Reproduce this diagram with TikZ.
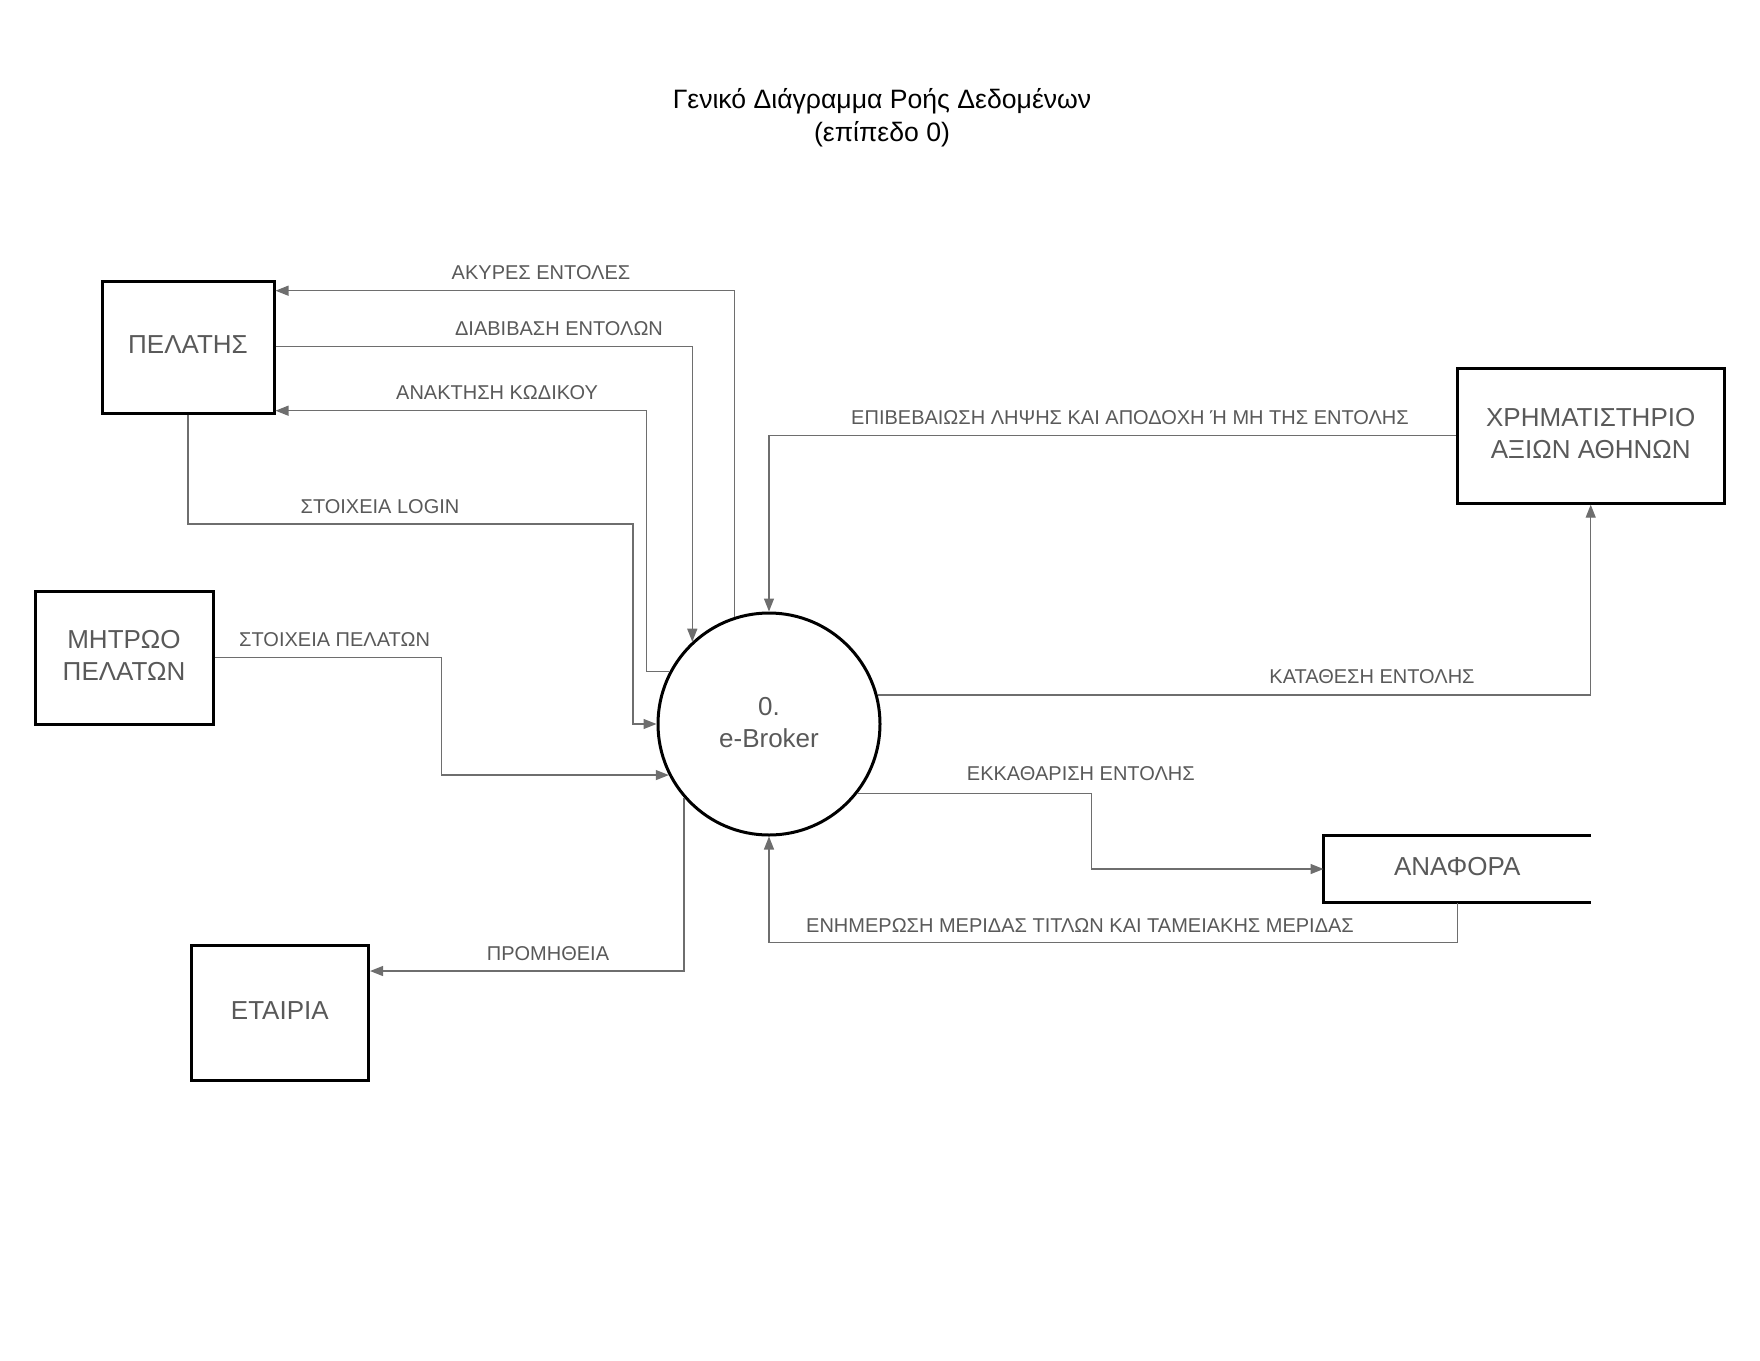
\documentclass[tikz,border=0pt]{standalone}
\usepackage{fontspec}
\setmainfont{Liberation Sans}
\usetikzlibrary{arrows.meta}
\definecolor{inkgray}{HTML}{595959}
\definecolor{wiregray}{HTML}{6E6E6E}
\begin{document}
\begin{tikzpicture}[x=0.5pt,y=-0.5pt,
  entity/.style={draw=black, line width=1.5pt, text=inkgray, inner sep=0pt,
    text depth=2.5pt, font=\fontsize{13pt}{16pt}\selectfont, align=center},
  process/.style={circle, draw=black, line width=1.5pt, minimum size=111pt,
    inner sep=0pt, text depth=1.2pt, text=inkgray, font=\fontsize{13pt}{16pt}\selectfont, align=center},
  storebox/.style={inner sep=0pt, text depth=2.5pt, text=inkgray, font=\fontsize{13pt}{16pt}\selectfont},
  wire/.style={draw=wiregray, line width=0.65pt},
  flow/.style={wire, -{Triangle[length=6.5pt,width=5pt]}},
  flowlabel/.style={text=inkgray, inner sep=0pt, font=\fontsize{10pt}{12pt}\selectfont},
]
\useasboundingbox (0,0) rectangle (1760,1360);

% heading
\node[align=center, font=\fontsize{13.3pt}{16.3pt}\selectfont] (title) at (882,117.5)
  {Γενικό Διάγραμμα Ροής Δεδομένων\\(επίπεδο 0)};

% external entities
\node[entity, minimum width=86pt, minimum height=66pt] (pel) at (188,347) {ΠΕΛΑΤΗΣ};
\node[entity, minimum width=89pt, minimum height=66.5pt] (mit) at (124,657.7) {ΜΗΤΡΩΟ\\ΠΕΛΑΤΩΝ};
\node[entity, minimum width=88.75pt, minimum height=67.5pt] (eta) at (279.8,1013.3) {ΕΤΑΙΡΙΑ};
\node[entity, minimum width=133.5pt, minimum height=67.5pt] (xa) at (1590.7,435.7) {ΧΡΗΜΑΤΙΣΤΗΡΙΟ\\ΑΞΙΩΝ ΑΘΗΝΩΝ};

% process
\node[process] (ebr) at (769,724) {0.\\e-Broker};

% data store (open on the right)
\node[storebox, minimum width=133.25pt, minimum height=33.15pt] (ana) at (1457.2,869) {ΑΝΑΦΟΡΑ};
\draw[line width=1.5pt] (ana.north east) -- (ana.north west) -- (ana.south west) -- (ana.south east);

% flows between the client and the process
\draw[flow] (ebr.108.9) |- (pel.east |- 0,290.7);
\draw[flow] (pel.east |- 0,346.7) -| (ebr.133.2);
\draw[flow] (ebr.152.65) -- ++(-23,0) |- (pel.east |- 0,410.7);
\draw[flow] (pel.south) |- (633,524) |- (ebr.west);

\node[flowlabel] (l1) at (541,272.6) {ΑΚΥΡΕΣ ΕΝΤΟΛΕΣ};
\node[flowlabel] (l2) at (559,329) {ΔΙΑΒΙΒΑΣΗ ΕΝΤΟΛΩΝ};
\node[flowlabel] (l3) at (497,392.7) {ΑΝΑΚΤΗΣΗ ΚΩΔΙΚΟΥ};
\node[flowlabel] (l4) at (380,507) {ΣΤΟΙΧΕΙΑ LOGIN};

% client register and company
\draw[flow] (mit.east) -- (441.4,657.7) |- (ebr.207.6);
\node[flowlabel] (l5) at (334.6,640) {ΣΤΟΙΧΕΙΑ ΠΕΛΑΤΩΝ};

\draw[flow] (ebr.221) |- (eta.east |- 0,971);
\node[flowlabel] (l6) at (548,954) {ΠΡΟΜΗΘΕΙΑ};

% stock exchange
\draw[flow] (xa.west) -| (ebr.north);
\node[flowlabel] (l7) at (1130,417.7) {ΕΠΙΒΕΒΑΙΩΣΗ ΛΗΨΗΣ ΚΑΙ ΑΠΟΔΟΧΗ Ή ΜΗ ΤΗΣ ΕΝΤΟΛΗΣ};

\draw[flow] (ebr.15.7) -| (xa.south);
\node[flowlabel] (l8) at (1372,676.7) {ΚΑΤΑΘΕΣΗ ΕΝΤΟΛΗΣ};

% report store
\draw[flow] (ebr.322.9) -- (ebr.322.9 -| 1091.7,0) |- (ana.west);
\node[flowlabel] (l9) at (1080.8,773.3) {ΕΚΚΑΘΑΡΙΣΗ ΕΝΤΟΛΗΣ};

\draw[flow] (ana.south) -- (ana.south |- 0,942.7) -| (ebr.south);
\node[flowlabel] (l10) at (1080,926) {ΕΝΗΜΕΡΩΣΗ ΜΕΡΙΔΑΣ ΤΙΤΛΩΝ ΚΑΙ ΤΑΜΕΙΑΚΗΣ ΜΕΡΙΔΑΣ};
\end{tikzpicture}
\end{document}
